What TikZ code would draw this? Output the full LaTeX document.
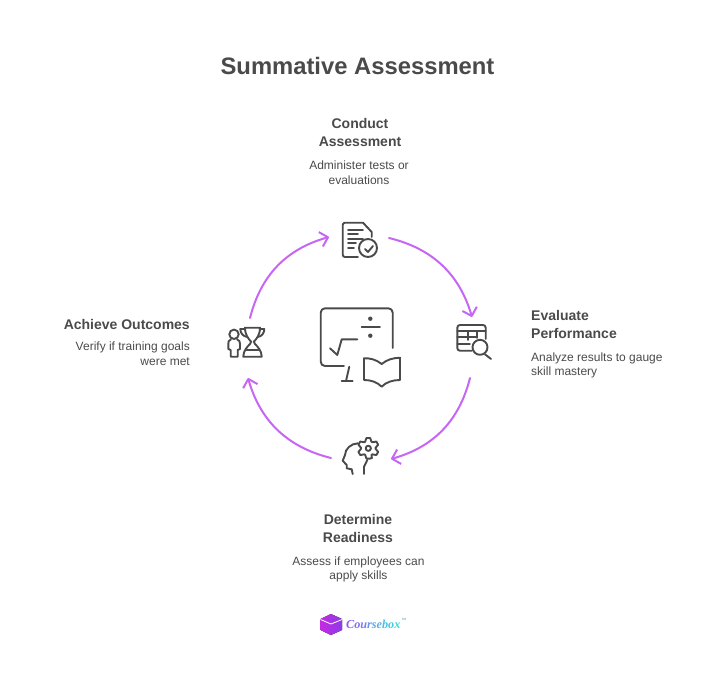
\documentclass[tikz,border=0pt]{standalone}
\usepackage[]{fontspec}
\usepackage[]{xcolor}
\setmainfont{Liberation Sans}
\newfontfamily\brandfont{Liberation Serif}
\usetikzlibrary{arrows.meta}
\usetikzlibrary{positioning}
\definecolor{ink}{HTML}{4A4A4A}
\definecolor{violet}{HTML}{C766F5}
\tikzset{heading/.style = {text = ink, font = \fontsize{14}{18}\selectfont\bfseries, inner sep = 0, align = center}}
\tikzset{detail/.style = {text = ink, font = \fontsize{12}{14.5}\selectfont, inner sep = 0, align = center}}
\tikzset{icon/.style = {draw = ink, line width = 1.9, line cap = round, line join = round}}
\tikzset{cycle/.style = {draw = violet, line width = 2, line cap = round, -{Straight Barb[length = 7.5, width = 15, line join = round]}}}

\begin{document}
\begin{tikzpicture}[x = 1pt, y = -1pt]
            \useasboundingbox (0,0) rectangle (721,685);
            \node [text = ink, font = \fontsize{23.8}{30}\selectfont\bfseries, inner sep = 0] (title) at (357.5,66) {Summative Assessment};

            \node [heading] (conduct) at (360,132) {Conduct\\Assessment};
            \node [detail] (conductd) at (359,172.5) {Administer tests or\\evaluations};
            \node [heading, align = left, anchor = west] (evaluate) at (531,324) {Evaluate\\Performance};
            \node [detail, align = left, anchor = west] (evaluated) at (531,365.5) {Analyze results to gauge\\skill mastery};
            \node [heading] (determine) at (358,528) {Determine\\Readiness};
            \node [detail] (determined) at (358.5,569.5) {Assess if employees can\\apply skills};
            \node [heading, anchor = east] (achieve) at (190,324) {Achieve Outcomes};
            \node [detail, align = right, anchor = east] (achieved) at (190,353.5) {Verify if training goals\\were met};

            \coordinate (a1) at (389,238);
            \coordinate (a2) at (472,317);
            \coordinate (b1) at (470,378);
            \coordinate (b2) at (391,459);
            \coordinate (c1) at (331,458);
            \coordinate (c2) at (248,378);
            \coordinate (d1) at (250,318);
            \coordinate (d2) at (329,237);
            \draw [cycle] (a1) to [bend left = 30] (a2);
            \draw [cycle] (b1) to [bend left = 30] (b2);
            \draw [cycle] (c1) to [bend left = 30] (c2);
            \draw [cycle] (d1) to [bend left = 30] (d2);

            \draw [icon] (358,257) -- (345,257) arc [start angle = 90, end angle = 180, radius = 2.3] -- (342.7,225) arc [start angle = 180, end angle = 270, radius = 2.3] -- (363,222.7) -- (371.7,232) -- (371.7,237);
            \foreach \y/\x in {230/363,234.3/358,239/363,243.3/356,248/354} {
                \draw [icon] (348,\y) -- (\x,\y);
            }
            \draw [icon] (368,248) circle (9);
            \draw [icon] (365,249) -- (368,252) -- (373,246);

            \draw [icon] (344,366) -- (325,366) arc [start angle = 90, end angle = 180, radius = 4.3] -- (320.7,312.6) arc [start angle = 180, end angle = 270, radius = 4.3] -- (388.4,308.3) arc [start angle = 270, end angle = 360, radius = 4.3] -- (392.7,348);
            \draw [icon] (349.3,366.7) -- (346,381);
            \draw [icon] (341.7,381) -- (352.7,381);
            \draw [icon] (361.7,327.3) -- (380,327.3);
            \fill [ink] (370.3,318.7) circle (2.2);
            \fill [ink] (370.3,335.7) circle (2.2);
            \draw [icon] (330,348.3) -- (337.3,355) -- (341.7,339.3) -- (357.3,339.3);
            \draw [icon] (381.7,364) .. controls (376,359.5) and (370,358) .. (364,358.3) -- (364,380) .. controls (371,380) and (377,382) .. (381.7,386.7) .. controls (386,382) and (393,380) .. (400,380) -- (400,357.7) .. controls (393,358) and (387,359.5) .. (381.7,364) -- cycle;

            \draw [icon] (471.7,350.7) -- (460,350.7) arc [start angle = 90, end angle = 180, radius = 2.7] -- (457.3,327.7) arc [start angle = 180, end angle = 270, radius = 2.7] -- (483,325) arc [start angle = 270, end angle = 360, radius = 2.7] -- (485.7,339);
            \draw [icon] (457.3,330.7) -- (485.7,330.7);
            \draw [icon] (457.3,337.3) -- (476.7,337.3);
            \draw [icon] (457.3,344) -- (470,344);
            \draw [icon] (468.3,331) -- (468.3,340);
            \draw [icon] (476.7,331) -- (476.7,338);
            \draw [icon] (480,347.3) circle (7.5);
            \draw [icon] (485,354.3) -- (491,359);

            \draw [icon] (234,334.3) circle (4.7);
            \draw [icon] (231,339.3) .. controls (228.5,340) and (228.3,342) .. (228.3,344) -- (228.3,349) -- (230.7,350) -- (230.7,356.7) -- (237.7,356.7) -- (237.7,350) -- (240,349) -- (240,344) .. controls (240,342) and (239.5,340) .. (237,339.3);
            \draw [icon] (245,327.7) -- (260,327.7) .. controls (260,335) and (256.5,339) .. (253.8,341.7) -- (255,344) .. controls (258,347) and (261.7,351) .. (261.7,356.7) -- (243.3,356.7) .. controls (243.3,351) and (247,347) .. (250,344) -- (251.2,341.7) .. controls (248.5,339) and (245,335) .. (245,327.7) -- cycle;
            \draw [icon] (246.7,350) -- (258.3,350);
            \draw [icon] (245,329) -- (240.3,329) .. controls (240.3,333) and (243,336.5) .. (247.5,337);
            \draw [icon] (260,329) -- (264.3,329) .. controls (264.3,333) and (262,336.5) .. (257.5,337);

            \draw [icon] (358,443.3) .. controls (351,443.5) and (345,449) .. (345,455) -- (342.7,460.7) -- (346.7,465) -- (346.7,468.3) -- (351.7,469.3) -- (352.7,474);
            \draw [icon] (364,474) -- (364,466.7) -- (367.3,460);
            \begin{scope}[shift = {(368.3,448.3)}]
                \draw [icon] (90:10.5) -- (70:10.5)
                    \foreach \a in {90,30,-30,-90,-150,-210} { -- (\a-26:7.3) -- (\a-34:7.3) -- (\a-50:10.5) -- (\a-70:10.5) } -- cycle;
                \draw [icon] (0,0) circle (2.6);
            \end{scope}

            \fill [left color = {rgb,255:red,196;green,42;blue,226}, right color = {rgb,255:red,140;green,60;blue,230}] (331,614) -- (342,619) -- (342,630) -- (331,635) -- (320.5,630) -- (320.5,619) -- cycle;
            \draw [white, line width = 0.8] (320.5,619.5) -- (331,624) -- (342,619.5);
            \node [font = \fontsize{12.2}{15}\selectfont\brandfont\itshape\bfseries, inner sep = 0, anchor = west] (brand) at (346,624) {\textcolor[HTML]{8A5CF0}{C}\textcolor[HTML]{7F6EF0}{o}\textcolor[HTML]{7580EE}{u}\textcolor[HTML]{6A92EC}{r}\textcolor[HTML]{5FA3EA}{s}\textcolor[HTML]{54B3E8}{e}\textcolor[HTML]{49C1E6}{b}\textcolor[HTML]{40CCE4}{o}\textcolor[HTML]{38D6E2}{x}};
            \node [font = \fontsize{3}{4}\selectfont, text = cyan!70!black, inner sep = 0, right = 1 of brand.north east] (tm) {TM};
        \end{tikzpicture}
\end{document}
